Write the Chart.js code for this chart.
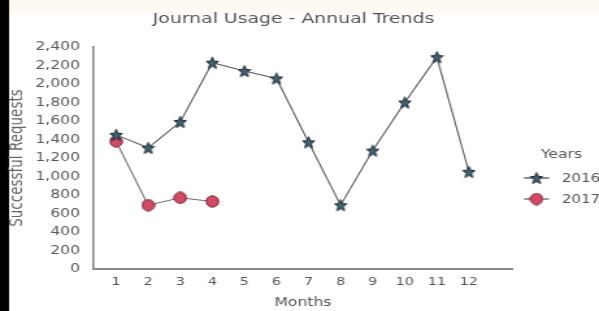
<!DOCTYPE html>
<html>
<head>
<meta charset="utf-8">
<script src="https://cdn.jsdelivr.net/npm/chart.js@4/dist/chart.umd.min.js"></script>
<style>
  html, body { margin: 0; padding: 0; background: #fff; }
  #chart { display: block; }
</style>
</head>
<body>
<!-- the original is stretched sideways, so draw narrow and let css widen it -->
<canvas id="chart" width="461" height="311" style="width:599px;height:311px"></canvas>
<script>
const months = [1, 2, 3, 4, 5, 6, 7, 8, 9, 10, 11, 12]
const usage2016 = [1450, 1310, 1590, 2230, 2140, 2060, 1370, 690, 1280, 1800, 2290, 1050]
const usage2017 = [1380, 690, 770, 730]
const years = ['2016', '2017']
const yTicks = [0, 200, 400, 600, 800, 1000, 1200, 1400, 1600, 1800, 2000, 2200, 2400]

const FONT = 'DejaVu Sans'
const SX = 461 / 599

function makeStar(w, h) {
        const c = document.createElement('canvas')
        c.width = w
        c.height = h
        const g = c.getContext('2d')
        g.translate(w / 2, h / 2 + 0.6)
        g.scale(w / h, 1)
        const ro = h / 2 - 0.8, ri = ro * 0.45
        g.beginPath()
        for (let i = 0; i < 10; i++) {
                const r = i % 2 === 0 ? ro : ri
                const a = -Math.PI / 2 + i * Math.PI / 5
                g.lineTo(r * Math.cos(a), r * Math.sin(a))
        }
        g.closePath()
        g.fillStyle = '#3d6272'
        g.fill()
        g.setTransform(1, 0, 0, 1, 0, 0)
        g.lineWidth = 1
        g.strokeStyle = '#1f2a30'
        g.stroke()
        return c
}

function makeDot(w, h) {
        const c = document.createElement('canvas')
        c.width = w
        c.height = h
        const g = c.getContext('2d')
        g.beginPath()
        g.ellipse(w / 2, h / 2, w / 2 - 0.8, h / 2 - 0.8, 0, 0, Math.PI * 2)
        g.fillStyle = '#d44a63'
        g.fill()
        g.lineWidth = 1
        g.strokeStyle = '#6e2232'
        g.stroke()
        return c
}

const starImg = makeStar(11, 14)
const dotImg = makeDot(11, 13)

const backdrop = {
        id: 'backdrop',
        beforeDraw(chart) {
                const c = chart.ctx
                c.save()
                c.fillStyle = '#ffffff'
                c.fillRect(0, 0, chart.width, chart.height)
                c.fillStyle = '#fdfaf1'
                c.fillRect(0, 0, chart.width, 14)
                c.fillStyle = '#000000'
                c.fillRect(0, 0, 9 * SX, chart.height)
                c.fillStyle = '#555'
                c.font = '14.5px ' + FONT
                c.textAlign = 'center'
                c.textBaseline = 'middle'
                c.fillText('Journal Usage - Annual Trends', 293.5 * SX, 19)
                c.restore()
        }
}

const sideLegend = {
        id: 'sideLegend',
        afterDraw(chart) {
                const c = chart.ctx
                c.save()
                c.font = '12px ' + FONT
                c.fillStyle = '#555'
                c.textBaseline = 'middle'
                c.textAlign = 'left'
                c.fillText('Years', 541 * SX, 155)
                chart.data.datasets.forEach((ds, i) => {
                        const y = 178 + i * 21
                        c.strokeStyle = ds.borderColor
                        c.lineWidth = 1.4
                        c.beginPath()
                        c.moveTo(524 * SX, y)
                        c.lineTo(549 * SX, y)
                        c.stroke()
                        const img = ds.pointStyle
                        c.drawImage(img, 536.5 * SX - img.width / 2, y - img.height / 2)
                        c.fillStyle = '#555'
                        c.font = '11.5px ' + FONT
                        c.fillText(ds.label, 562 * SX, y + 1)
                })
                c.restore()
        }
}

const ctx = document.getElementById('chart').getContext('2d')

new Chart(ctx, {
        type: 'line',
        data: {
                datasets: [{
                        label: years[0],
                        data: months.map((m, i) => ({ x: m, y: usage2016[i] })),
                        borderColor: '#5c5c5c',
                        borderWidth: 1.1,
                        pointStyle: starImg,
                        pointRadius: 7,
                        tension: 0
                }, {
                        label: years[1],
                        data: usage2017.map((v, i) => ({ x: months[i], y: v })),
                        borderColor: '#7a6a6a',
                        borderWidth: 1.1,
                        pointStyle: dotImg,
                        pointRadius: 7,
                        tension: 0
                }]
        },
        options: {
                responsive: false,
                animation: false,
                devicePixelRatio: 1,
                layout: { padding: { left: 5.5, right: 461 - 513 * SX, top: 47, bottom: 0 } },
                plugins: {
                        legend: { display: false },
                        tooltip: { enabled: false },
                        title: { display: false }
                },
                scales: {
                        x: {
                                type: 'linear',
                                min: 0.28,
                                max: 13.375,
                                afterBuildTicks: s => { s.ticks = months.map(v => ({ value: v })) },
                                afterFit: s => { s.height = 42 },
                                grid: { display: false, drawTicks: false },
                                border: { color: '#8a8a8a', width: 2 },
                                ticks: { color: '#555', font: { family: FONT, size: 11 }, padding: 7 },
                                title: {
                                        display: true,
                                        text: 'Months',
                                        color: '#555',
                                        font: { family: FONT, size: 12 },
                                        padding: { top: 0, bottom: 1 }
                                }
                        },
                        y: {
                                min: 0,
                                max: 2400,
                                afterBuildTicks: s => { s.ticks = yTicks.map(v => ({ value: v })) },
                                afterFit: s => { s.width = 93 * SX - 5.5 },
                                grid: { display: false, drawTicks: false },
                                border: { color: '#8a8a8a', width: 1.6 },
                                ticks: {
                                        color: '#5a5a5a',
                                        font: { family: FONT, size: 12 },
                                        padding: 10,
                                        callback: v => v.toLocaleString('en-US')
                                },
                                title: {
                                        display: true,
                                        text: 'Successful Requests',
                                        color: '#666',
                                        font: { family: FONT, size: 13.5 },
                                        padding: { top: 0, bottom: 0 }
                                }
                        }
                }
        },
        plugins: [backdrop, sideLegend]
})
</script>
</body>
</html>
